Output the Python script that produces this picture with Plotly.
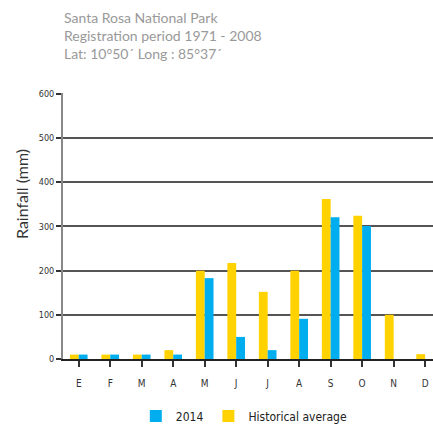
import plotly.graph_objects as go

months = ["E", "F", "M", "A", "M", "J", "J", "A", "S", "O", "N", "D"]
rain_2014 = [10, 10, 10, 10, 183, 50, 20, 91, 321, 301, 0, 0]
rain_hist = [10, 10, 10, 20, 200, 217, 152, 200, 362, 324, 100, 11]
y_ticks = [0, 100, 200, 300, 400, 500, 600]

x = list(range(len(months)))
cond = "Liberation Sans Narrow, DejaVu Sans Condensed, sans-serif"
H = 266  # plot area height in px, used to place texts in paper coords


def py(px):
    return (359 - px) / H


fig = go.Figure()
fig.add_trace(go.Bar(x=x, y=rain_hist, name="Historical average",
                     marker=dict(color="#FFD200", line=dict(width=0))))
fig.add_trace(go.Bar(x=x, y=rain_2014, name="2014",
                     marker=dict(color="#00AEEF", line=dict(width=0))))

fig.update_layout(
    width=433, height=426,
    margin=dict(l=63, r=0, t=93, b=67, autoexpand=False),
    paper_bgcolor="white", plot_bgcolor="white",
    barmode="group", bargap=0.44, bargroupgap=0,
    showlegend=True,
    legend=dict(orientation="h", traceorder="reversed",
                x=0.49, xanchor="center", y=py(416), yanchor="middle",
                font=dict(family=cond, size=12, color="#222"),
                itemwidth=30),
    annotations=[
        dict(text="Santa Rosa National Park<br>Registration period 1971 - 2008<br>Lat: 10°50´ Long : 85°37´",
             x=-0.004, y=py(7), xref="paper", yref="paper", xanchor="left", yanchor="top",
             align="left", showarrow=False,
             font=dict(family="Lato, Open Sans, sans-serif", size=14, color="#999999")),
        dict(text="Rainfall (mm)", textangle=-90,
             x=(21 - 63) / 370, y=py(194), xref="paper", yref="paper",
             xanchor="center", yanchor="middle", showarrow=False,
             font=dict(family="Lato, Open Sans, sans-serif", size=16, color="#333")),
    ],
)

fig.update_xaxes(
    range=[-0.5, 11.25], tickmode="array", tickvals=x, ticktext=months,
    tickson="boundaries", ticks="outside", ticklen=6, tickwidth=1.5, tickcolor="#333",
    showline=True, linecolor="#222", linewidth=1.5,
    showgrid=False, zeroline=False, automargin=False,
    ticklabelstandoff=8,
    tickfont=dict(family=cond, size=10, color="#333"),
)
fig.update_yaxes(
    range=[0, 602], tickmode="array", tickvals=y_ticks,
    ticks="outside", ticklen=5, tickwidth=1.5, tickcolor="#333",
    showline=True, linecolor="#888", linewidth=2,
    showgrid=True, gridcolor="#555", gridwidth=1.5, zeroline=False, automargin=False,
    tickfont=dict(family=cond, size=9, color="#333"),
)

fig.write_html("out.html", config={"displayModeBar": False},
               post_script="document.body.style.margin='0';")
